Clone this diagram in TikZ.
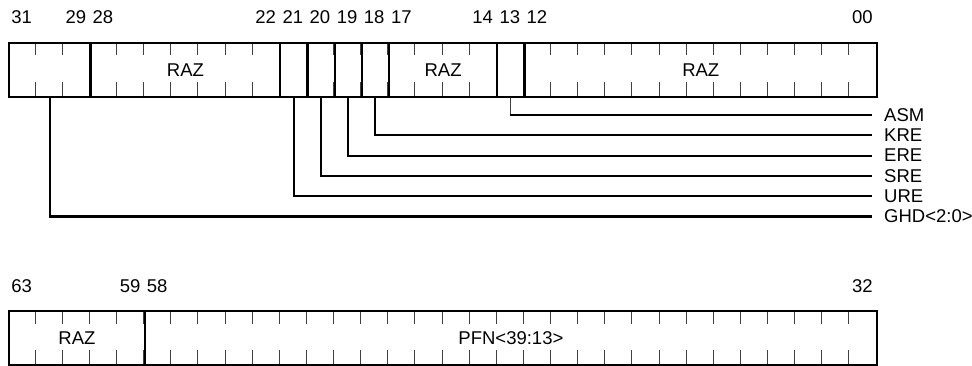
\documentclass[tikz,border=0pt]{standalone}
\usepackage{fontspec}
\setmainfont{Liberation Sans}
\usetikzlibrary{positioning, calc}
\newcommand{\regfont}{\fontsize{18.5}{21}\selectfont}
\tikzset{
  field/.style={draw, line width=2.2pt, minimum height=54.5pt, inner sep=0pt, anchor=north west, font=\regfont},
  tick/.style={draw=black!75, line width=1pt},
  lead/.style={line width=2.2pt},
  bitnum/.style={anchor=base, inner sep=0pt, font=\regfont},
  sig/.style={anchor=west, inner sep=0pt, font=\regfont}
}
\begin{document}
\begin{tikzpicture}[x=1pt, y=-1pt]
\useasboundingbox (0,0) rectangle (972,365);
% ticks first, field borders go over them
\foreach \k in {1,...,31} {
  \draw[tick] (8+\k*27.125, 41.5) -- (8+\k*27.125, 55);
  \draw[tick] (8+\k*27.125, 82) -- (8+\k*27.125, 96);
  \draw[tick] (8+\k*27.125, 310) -- (8+\k*27.125, 324);
  \draw[tick] (8+\k*27.125, 350) -- (8+\k*27.125, 364);
}
% low longword
\foreach \hi/\w/\txt/\nm in {31/3//ghdf, 28/7/RAZ/raza, 21/1//uref, 20/1//sref, 19/1//eref, 18/1//kref, 17/4/RAZ/razb, 13/1//asmf, 12/13/RAZ/razc}
  \node[field, minimum width=\w*27.125pt] (\nm) at (8+31*27.125-\hi*27.125, 41.5) {\txt};
\foreach \b/\t in {31/31, 29/29, 28/28, 22/22, 21/21, 20/20, 19/19, 18/18, 17/17, 14/14, 13/13, 12/12, 0/00}
  \node[bitnum] (n\t) at (8+31.5*27.125-\b*27.125, 23) {\t};
% high longword
\node[field, minimum width=5*27.125pt, minimum height=54pt] (razd) at (8, 310) {RAZ};
\node[field, minimum width=27*27.125pt, minimum height=54pt] (pfn) at (8+5*27.125, 310) {PFN<39:13>};
\foreach \b/\t in {63/63, 59/59, 58/58, 32/32}
  \node[bitnum] (n\t) at (8+63.5*27.125-\b*27.125, 292) {\t};
% signal names
\node[sig] (asm) at (884, 115) {ASM};
\node[sig] (kre) at (884, 135.3) {KRE};
\node[sig] (ere) at (884, 155.6) {ERE};
\node[sig] (sre) at (884, 175.9) {SRE};
\node[sig] (ure) at (884, 196.2) {URE};
\node[sig] (ghd) at (884, 216.5) {GHD<2:0>};
\draw[tick] (asmf.south) -- (asmf.south |- asm.west);
\draw[lead] ([xshift=-0.5pt]asmf.south |- asm.west) -- ([xshift=-12pt]asm.west);
\draw[lead] (kref.south) |- ([xshift=-12pt]kre.west);
\draw[lead] (eref.south) |- ([xshift=-12pt]ere.west);
\draw[lead] (sref.south) |- ([xshift=-12pt]sre.west);
\draw[lead] (uref.south) |- ([xshift=-12pt]ure.west);
\draw[lead] (ghdf.south) |- ([xshift=-12pt]ghd.west);
\end{tikzpicture}
\end{document}
